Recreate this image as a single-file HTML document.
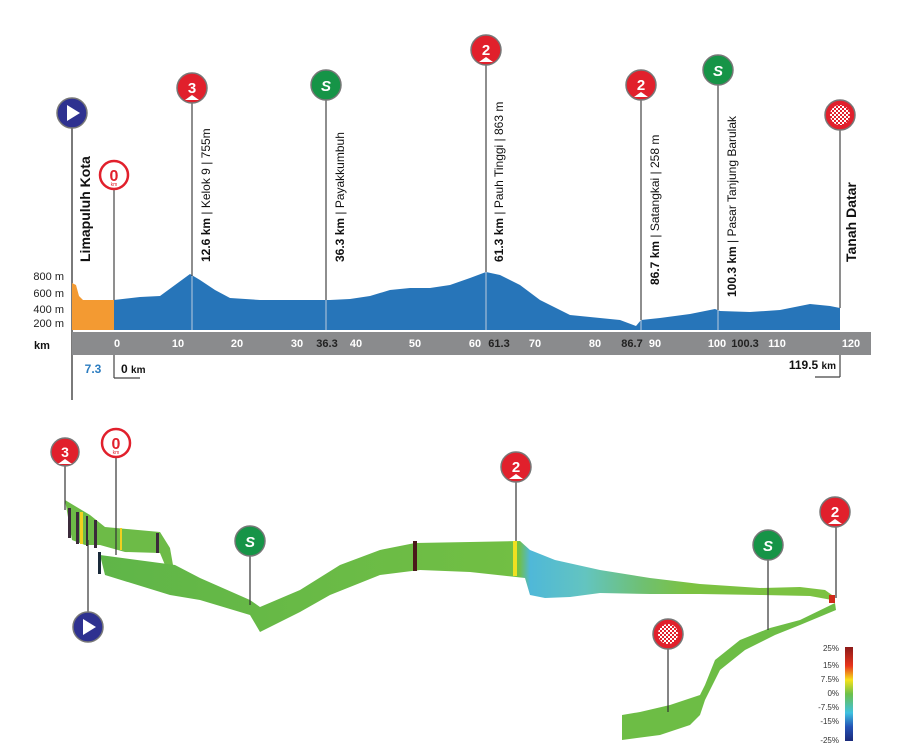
<!DOCTYPE html>
<html><head><meta charset="utf-8"><style>
html,body{margin:0;padding:0;background:#fff;}
svg{display:block;font-family:"Liberation Sans",Arial,sans-serif;}
</style></head><body>
<svg width="905" height="756" viewBox="0 0 905 756" xmlns="http://www.w3.org/2000/svg">
<defs>
<linearGradient id="band" gradientUnits="userSpaceOnUse" x1="100" y1="0" x2="835" y2="0">
<stop offset="0" stop-color="#5fb548"/>
<stop offset="0.57" stop-color="#72bf44"/>
<stop offset="0.585" stop-color="#4fb8d8"/>
<stop offset="0.66" stop-color="#63c4c0"/>
<stop offset="0.74" stop-color="#6fc070"/>
<stop offset="0.8" stop-color="#7cc242"/>
<stop offset="1" stop-color="#7cc242"/>
</linearGradient>
<linearGradient id="leg" x1="0" y1="0" x2="0" y2="1">
<stop offset="0" stop-color="#8b1a1a"/><stop offset="0.2" stop-color="#e8341c"/><stop offset="0.35" stop-color="#f7e21b"/><stop offset="0.5" stop-color="#6cc04a"/><stop offset="0.7" stop-color="#3fc1e0"/><stop offset="0.85" stop-color="#2452b5"/><stop offset="1" stop-color="#1b2a7a"/>
</linearGradient>
<pattern id="chk" width="4" height="4" patternUnits="userSpaceOnUse"><rect width="4" height="4" fill="#e1202c"/><rect width="2" height="2" fill="#fff"/><rect x="2" y="2" width="2" height="2" fill="#fff"/></pattern>
</defs>

<!-- top profile -->
<line x1="72" y1="120" x2="72" y2="400" stroke="#222" stroke-width="1.2"/>
<polygon points="72,330 72,283 76,285 79,296 83,300 114,300 114,330" fill="#f39a32"/>
<polygon points="114,330 114,300 140,297 160,296 175,285 190,274 200,280 215,290 230,298 260,300 300,300 330,300 350,299 370,296 390,290 410,288 430,288 450,285 470,278 486,272 500,275 520,285 540,300 570,315 600,318 620,320 636,326 641,320 660,318 690,314 715,309 720,311 750,312 780,310 810,304 830,306 840,308 840,330" fill="#2775b9"/>
<g stroke="#bcd" stroke-width="1"><line x1="192" y1="276" x2="192" y2="330"/><line x1="326" y1="300" x2="326" y2="330"/><line x1="486" y1="272" x2="486" y2="330"/><line x1="641" y1="320" x2="641" y2="330"/><line x1="718" y1="310" x2="718" y2="330"/></g>
<g stroke="#444" stroke-width="1.2">
<line x1="114" y1="188" x2="114" y2="300"/><line x1="192" y1="100" x2="192" y2="276"/><line x1="326" y1="98" x2="326" y2="300"/><line x1="486" y1="63" x2="486" y2="272"/><line x1="641" y1="98" x2="641" y2="320"/><line x1="718" y1="84" x2="718" y2="310"/><line x1="840" y1="128" x2="840" y2="308"/>
<line x1="114" y1="355" x2="114" y2="378"/><line x1="114" y1="378" x2="140" y2="378"/>
<line x1="840" y1="355" x2="840" y2="377"/><line x1="815" y1="377" x2="840" y2="377"/>
</g>
<g font-size="11" fill="#222" text-anchor="end"><text x="64" y="280">800 m</text><text x="64" y="297">600 m</text><text x="64" y="313">400 m</text><text x="64" y="327">200 m</text></g>
<rect x="72" y="332" width="799" height="23" fill="#8a8b8d"/>
<text x="34" y="349" font-size="11" font-weight="bold" fill="#111">km</text>
<g font-size="11" font-weight="bold" fill="#fff" text-anchor="middle">
<text x="117" y="347">0</text><text x="178" y="347">10</text><text x="237" y="347">20</text><text x="297" y="347">30</text><text x="356" y="347">40</text><text x="415" y="347">50</text><text x="475" y="347">60</text><text x="535" y="347">70</text><text x="595" y="347">80</text><text x="655" y="347">90</text><text x="717" y="347">100</text><text x="777" y="347">110</text><text x="851" y="347">120</text>
</g>
<g font-size="11" font-weight="bold" fill="#222" text-anchor="middle">
<text x="327" y="347">36.3</text><text x="499" y="347">61.3</text><text x="632" y="347">86.7</text><text x="745" y="347">100.3</text>
</g>
<text x="93" y="373" font-size="12" font-weight="bold" fill="#2b7cc0" text-anchor="middle">7.3</text>
<text x="121" y="373" font-size="12" font-weight="bold" fill="#111">0 <tspan font-size="10">km</tspan></text>
<text x="836" y="369" font-size="12" font-weight="bold" fill="#111" text-anchor="end">119.5 <tspan font-size="10">km</tspan></text>

<g font-size="12" fill="#111">
<text transform="translate(90,262) rotate(-90)" font-size="14" font-weight="bold">Limapuluh Kota</text>
<text transform="translate(210,262) rotate(-90)"><tspan font-weight="bold">12.6 km</tspan> | Kelok 9 | 755m</text>
<text transform="translate(344,262) rotate(-90)"><tspan font-weight="bold">36.3 km</tspan> | Payakkumbuh</text>
<text transform="translate(503,262) rotate(-90)"><tspan font-weight="bold">61.3 km</tspan> | Pauh Tinggi | 863 m</text>
<text transform="translate(659,285) rotate(-90)"><tspan font-weight="bold">86.7 km</tspan> | Satangkai | 258 m</text>
<text transform="translate(736,297) rotate(-90)"><tspan font-weight="bold">100.3 km</tspan> | Pasar Tanjung Barulak</text>
<text transform="translate(856,262) rotate(-90)" font-size="14" font-weight="bold">Tanah Datar</text>
</g>

<!-- icons top -->
<g>
<circle cx="72" cy="113" r="15" fill="#2e3190" stroke="#777" stroke-width="1.5"/><polygon points="67,105 67,121 80,113" fill="#fff"/>
<circle cx="114" cy="175" r="14" fill="#fff" stroke="#e1202c" stroke-width="2.5"/><text x="114" y="181" font-size="16" font-weight="bold" fill="#e1202c" text-anchor="middle">0</text><text x="114" y="186" font-size="5" fill="#e1202c" text-anchor="middle">km</text>
<circle cx="192" cy="88" r="15" fill="#e1202c" stroke="#777" stroke-width="1.5"/><text x="192" y="93" font-size="15" font-weight="bold" fill="#fff" text-anchor="middle">3</text><polygon points="185,100 192,95 199,100" fill="#fff"/>
<circle cx="326" cy="85" r="15" fill="#169447" stroke="#777" stroke-width="1.5"/><text x="326" y="91" font-size="15" font-weight="bold" font-style="italic" fill="#fff" text-anchor="middle">S</text>
<circle cx="486" cy="50" r="15" fill="#e1202c" stroke="#777" stroke-width="1.5"/><text x="486" y="55" font-size="15" font-weight="bold" fill="#fff" text-anchor="middle">2</text><polygon points="479,62 486,57 493,62" fill="#fff"/>
<circle cx="641" cy="85" r="15" fill="#e1202c" stroke="#777" stroke-width="1.5"/><text x="641" y="90" font-size="15" font-weight="bold" fill="#fff" text-anchor="middle">2</text><polygon points="634,97 641,92 648,97" fill="#fff"/>
<circle cx="718" cy="70" r="15" fill="#169447" stroke="#777" stroke-width="1.5"/><text x="718" y="76" font-size="15" font-weight="bold" font-style="italic" fill="#fff" text-anchor="middle">S</text>
<circle cx="840" cy="115" r="15" fill="#e1202c" stroke="#777" stroke-width="1.5"/><circle cx="840" cy="115" r="10" fill="url(#chk)"/>
</g>

<!-- 3D map -->
<polygon points="65,500 90,515 105,527 160,532 170,548 173,565 165,565 160,553 125,552 100,545 85,545 72,540" fill="#6dbb47"/>
<g fill="#3b2a3a"><rect x="68" y="508" width="3" height="30"/><rect x="76" y="512" width="3" height="32"/><rect x="86" y="516" width="2" height="30"/><rect x="94" y="520" width="3" height="28"/><rect x="156" y="533" width="3" height="20"/></g>
<g fill="#f0d020"><rect x="80" y="512" width="3" height="32"/><rect x="120" y="528" width="2" height="22"/></g>
<polygon points="100,555 175,565 200,578 250,600 260,607 300,590 340,565 380,550 415,543 470,542 520,541 530,550 555,560 600,570 650,578 700,584 760,588 800,587 825,590 832,595 832,600 810,596 760,595 700,594 650,594 600,593 570,597 545,598 530,595 525,578 470,572 420,570 380,575 330,595 300,612 260,632 250,615 200,600 170,595 105,575" fill="url(#band)"/>
<rect x="413" y="541" width="4" height="30" fill="#4a1a1a"/>
<rect x="513" y="541" width="4" height="35" fill="#f0e020"/>
<rect x="98" y="552" width="3" height="22" fill="#1a2a3a"/>
<polygon points="835,603 800,620 770,628 740,640 715,660 705,685 700,695 670,705 640,712 622,715 622,740 660,735 690,725 700,715 705,700 720,670 745,650 775,635 800,625 836,610" fill="#6dbd45"/>
<rect x="829" y="595" width="6" height="8" fill="#d02a1a"/>

<g stroke="#333" stroke-width="1.2">
<line x1="65" y1="465" x2="65" y2="510"/><line x1="116" y1="456" x2="116" y2="555"/><line x1="88" y1="613" x2="88" y2="540"/><line x1="250" y1="555" x2="250" y2="605"/><line x1="516" y1="481" x2="516" y2="541"/><line x1="768" y1="558" x2="768" y2="630"/><line x1="836" y1="527" x2="836" y2="598"/><line x1="668" y1="648" x2="668" y2="712"/>
</g>
<circle cx="65" cy="452" r="14" fill="#e1202c" stroke="#777" stroke-width="1.5"/><text x="65" y="457" font-size="14" font-weight="bold" fill="#fff" text-anchor="middle">3</text><polygon points="58,464 65,459 72,464" fill="#fff"/>
<circle cx="116" cy="443" r="14" fill="#fff" stroke="#e1202c" stroke-width="2.5"/><text x="116" y="449" font-size="16" font-weight="bold" fill="#e1202c" text-anchor="middle">0</text><text x="116" y="454" font-size="5" fill="#e1202c" text-anchor="middle">km</text>
<circle cx="88" cy="627" r="15" fill="#2e3190" stroke="#777" stroke-width="1.5"/><polygon points="83,619 83,635 96,627" fill="#fff"/>
<circle cx="250" cy="541" r="15" fill="#169447" stroke="#777" stroke-width="1.5"/><text x="250" y="547" font-size="15" font-weight="bold" font-style="italic" fill="#fff" text-anchor="middle">S</text>
<circle cx="516" cy="467" r="15" fill="#e1202c" stroke="#777" stroke-width="1.5"/><text x="516" y="472" font-size="15" font-weight="bold" fill="#fff" text-anchor="middle">2</text><polygon points="509,479 516,474 523,479" fill="#fff"/>
<circle cx="768" cy="545" r="15" fill="#169447" stroke="#777" stroke-width="1.5"/><text x="768" y="551" font-size="15" font-weight="bold" font-style="italic" fill="#fff" text-anchor="middle">S</text>
<circle cx="835" cy="512" r="15" fill="#e1202c" stroke="#777" stroke-width="1.5"/><text x="835" y="517" font-size="15" font-weight="bold" fill="#fff" text-anchor="middle">2</text><polygon points="828,524 835,519 842,524" fill="#fff"/>
<circle cx="668" cy="634" r="15" fill="#e1202c" stroke="#777" stroke-width="1.5"/><circle cx="668" cy="634" r="10" fill="url(#chk)"/>

<rect x="845" y="647" width="8" height="94" fill="url(#leg)"/>
<g font-size="8" fill="#333" text-anchor="end"><text x="839" y="651">25%</text><text x="839" y="668">15%</text><text x="839" y="682">7.5%</text><text x="839" y="696">0%</text><text x="839" y="710">-7.5%</text><text x="839" y="724">-15%</text><text x="839" y="743">-25%</text></g>
</svg>
</body></html>
